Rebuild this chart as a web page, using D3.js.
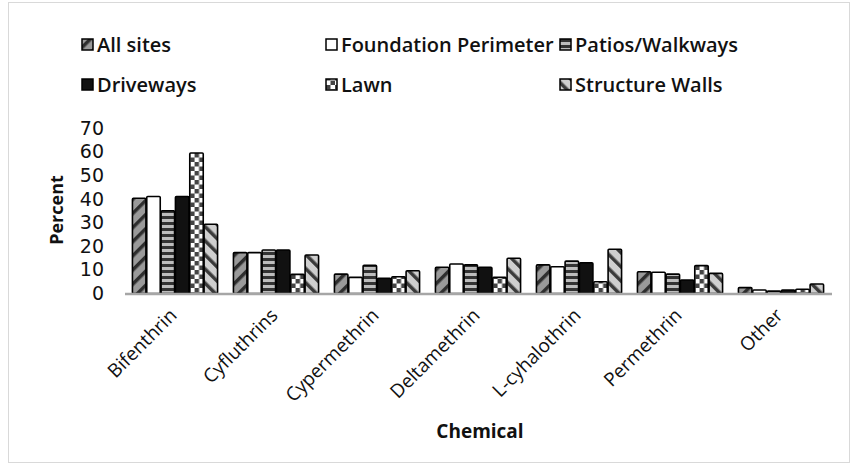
<!DOCTYPE html>
<html>
<head>
<meta charset="utf-8">
<script src="https://cdn.jsdelivr.net/npm/d3@7"></script>
<style>
  body { margin: 0; background: #fff; }
  svg text { fill: #111; }
</style>
</head>
<body>
<svg id="chart" width="858" height="468"></svg>
<script>
// chemicals on the x axis
const categories = ["Bifenthrin", "Cyfluthrins", "Cypermethrin", "Deltamethrin", "L-cyhalothrin", "Permethrin", "Other"];
const seriesNames = ["All sites", "Foundation Perimeter", "Patios/Walkways", "Driveways", "Lawn", "Structure Walls"];

// percent per site type, one value per chemical
const allSites   = [40.3, 17.3, 8.2, 11.1, 12.1, 9.2, 2.5];
const foundation = [41, 17.3, 6.8, 12.5, 11.3, 9, 1.5];
const patios     = [35, 18.4, 11.9, 12.1, 13.7, 8.2, 1];
const driveways  = [41, 18.4, 6.4, 11.1, 13, 5.7, 1.5];
const lawn       = [59.4, 8.1, 7.1, 6.8, 5, 11.8, 1.8];
const walls      = [29.3, 16.3, 9.6, 14.9, 18.7, 8.5, 4];
const yTicks = [0, 10, 20, 30, 40, 50, 60, 70];

const seriesValues = [allSites, foundation, patios, driveways, lawn, walls];

const svg = d3.select("#chart");

// light frame around the chart
svg.append("rect")
    .attr("x", 8.5).attr("y", 2.5)
    .attr("width", 841).attr("height", 460)
    .attr("fill", "none")
    .attr("stroke", "#d9d9d9");

// fill patterns
const defs = svg.append("defs");

function stripes(id, bg, fg, angle, size, w) {
    const p = defs.append("pattern")
        .attr("id", id)
        .attr("patternUnits", "userSpaceOnUse")
        .attr("width", size).attr("height", size)
        .attr("patternTransform", `rotate(${angle})`);
    p.append("rect").attr("width", size).attr("height", size).attr("fill", bg);
    p.append("rect").attr("width", w).attr("height", size).attr("fill", fg);
}
stripes("p-all", "#9a9a9a", "#2e2e2e", 45, 10, 3.5);
stripes("p-walls", "#cfcfcf", "#3a3a3a", -45, 10, 3.5);

const hp = defs.append("pattern")
    .attr("id", "p-patios")
    .attr("patternUnits", "userSpaceOnUse")
    .attr("width", 6).attr("height", 6);
hp.append("rect").attr("width", 6).attr("height", 6).attr("fill", "#bdbdbd");
hp.append("rect").attr("width", 6).attr("height", 3).attr("fill", "#333");

const cp = defs.append("pattern")
    .attr("id", "p-lawn")
    .attr("patternUnits", "userSpaceOnUse")
    .attr("width", 9).attr("height", 9);
cp.append("rect").attr("width", 9).attr("height", 9).attr("fill", "#fff");
cp.append("rect").attr("width", 4.5).attr("height", 4.5).attr("fill", "#444");
cp.append("rect").attr("x", 4.5).attr("y", 4.5).attr("width", 4.5).attr("height", 4.5).attr("fill", "#444");

const fills = ["url(#p-all)", "#ffffff", "url(#p-patios)", "#111111", "url(#p-lawn)", "url(#p-walls)"];

// scales
const x0 = d3.scaleBand()
    .domain(categories)
    .range([124.5, 831.5])
    .paddingInner(0.14)
    .paddingOuter(0.07);

const x1 = d3.scaleBand()
    .domain(seriesNames)
    .range([0, x0.bandwidth()])
    .padding(0.06);

const y = d3.scaleLinear()
    .domain([0, 70])
    .range([293.5, 128]);

// y axis labels, no axis line
const yAxis = svg.append("g")
    .attr("transform", "translate(104,0)")
    .call(d3.axisLeft(y).tickValues(yTicks).tickSize(0).tickPadding(0));
yAxis.select(".domain").remove();
yAxis.selectAll("text")
    .attr("font-family", "DejaVu Sans")
    .attr("font-size", 19)
    .attr("fill", "#111");

// bars
const groups = svg.append("g").selectAll("g")
    .data(categories)
    .join("g")
    .attr("transform", d => `translate(${x0(d)},0)`);

groups.selectAll("rect")
    .data((c, ci) => seriesNames.map((s, si) => ({ s, si, v: seriesValues[si][ci] })))
    .join("rect")
    .attr("x", d => x1(d.s))
    .attr("y", d => y(d.v))
    .attr("width", x1.bandwidth())
    .attr("height", d => y(0) - y(d.v))
    .attr("rx", 1)
    .attr("fill", d => fills[d.si])
    .attr("stroke", "#000")
    .attr("stroke-width", 1.6);

// baseline
const xAxis = svg.append("g")
    .attr("transform", `translate(0,${y(0)})`)
    .call(d3.axisBottom(x0).tickSize(0).tickPadding(0));
xAxis.select(".domain")
    .attr("stroke", "#a6a6a6")
    .attr("stroke-width", 2.5);
xAxis.selectAll("text")
    .attr("font-family", "Open Sans")
    .attr("font-size", 19)
    .attr("fill", "#111")
    .style("text-anchor", "end")
    .attr("dy", 0)
    .attr("transform", "translate(3,23)rotate(-45)");

// axis titles
svg.append("text")
    .attr("transform", "translate(63,210)rotate(-90)")
    .attr("text-anchor", "middle")
    .attr("font-family", "Open Sans")
    .attr("font-weight", "bold")
    .attr("font-size", 18)
    .text("Percent");

svg.append("text")
    .attr("x", 480).attr("y", 438)
    .attr("text-anchor", "middle")
    .attr("font-family", "Open Sans")
    .attr("font-weight", "bold")
    .attr("font-size", 19)
    .text("Chemical");

// legend
const legendPos = [[82, 45], [326, 45], [560, 45], [82, 85], [326, 85], [560, 85]];
const legend = svg.append("g").selectAll("g")
    .data(seriesNames)
    .join("g")
    .attr("transform", (d, i) => `translate(${legendPos[i][0]},${legendPos[i][1]})`);

legend.append("rect")
    .attr("x", 0).attr("y", -6)
    .attr("width", 11).attr("height", 11)
    .attr("fill", (d, i) => fills[i])
    .attr("stroke", "#000")
    .attr("stroke-width", 1.5);

legend.append("text")
    .attr("x", 15).attr("y", 0)
    .attr("dy", "0.35em")
    .attr("font-family", "Open Sans")
    .attr("font-weight", 600)
    .attr("font-size", 20)
    .text(d => d);
</script>
</body>
</html>
